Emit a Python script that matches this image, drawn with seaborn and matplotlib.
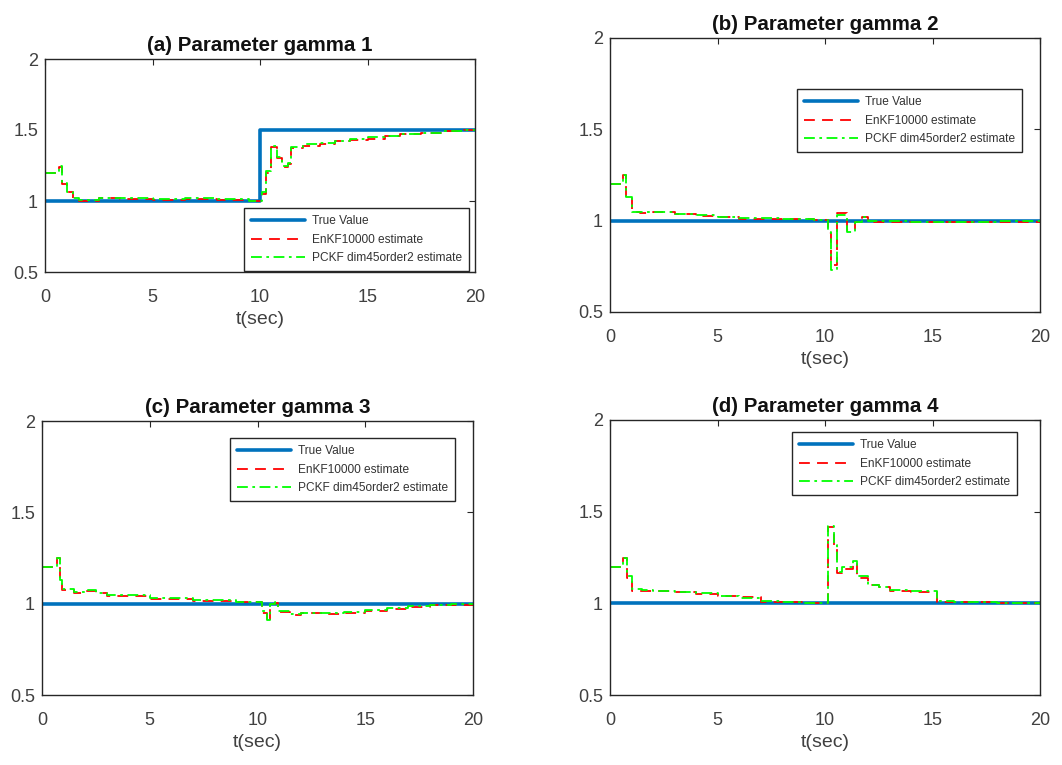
import matplotlib
matplotlib.use("Agg")
import matplotlib.pyplot as plt
import seaborn as sns

sns.set_theme(style="white")
plt.rcParams["font.family"] = ["Liberation Sans", "DejaVu Sans"]

# ---- data -------------------------------------------------------------
titles = ["(a) Parameter gamma 1", "(b) Parameter gamma 2",
          "(c) Parameter gamma 3", "(d) Parameter gamma 4"]
labels = ["True Value", "EnKF10000 estimate", "PCKF dim45order2 estimate"]
x_ticks = [0, 5, 10, 15, 20]
y_ticks = [0.5, 1, 1.5, 2]

# true parameter values (piecewise constant)
t_true_a = [0, 10, 20]
true_a = [1.0, 1.5, 1.5]
t_true = [0, 20]
true_flat = [1.0, 1.0]

# gamma 1
t_a = [0, 0.65, 0.8, 1.0, 1.3, 1.6, 2.5, 3.5, 5, 6.5, 8, 9.5, 10.1, 10.3, 10.5,
       10.8, 11.0, 11.3, 11.45, 12, 12.8, 13.5, 14.2, 15, 15.8, 16.5, 17.5, 18.5, 19.5, 20]
enkf_a = [1.20, 1.24, 1.12, 1.06, 1.02, 1.00, 1.02, 1.015, 1.01, 1.015, 1.01, 1.00, 1.05, 1.20, 1.38,
          1.30, 1.24, 1.26, 1.37, 1.39, 1.40, 1.42, 1.43, 1.44, 1.46, 1.47, 1.48, 1.49, 1.50, 1.50]
pckf_a = [1.20, 1.25, 1.13, 1.06, 1.02, 1.01, 1.02, 1.02, 1.015, 1.02, 1.015, 1.00, 1.06, 1.21, 1.39,
          1.31, 1.25, 1.27, 1.38, 1.40, 1.41, 1.42, 1.44, 1.45, 1.46, 1.47, 1.48, 1.49, 1.50, 1.50]

# gamma 2
t_b = [0, 0.6, 0.75, 1.0, 1.4, 2.0, 3.0, 4.0, 5.0, 6.0, 8.0, 9.5, 10.15, 10.3, 10.55,
       11.0, 11.4, 11.7, 12.0, 14.0, 16.0, 18.0, 20]
enkf_b = [1.20, 1.25, 1.13, 1.05, 1.04, 1.045, 1.035, 1.025, 1.02, 1.01, 1.01, 1.005, 0.93, 0.76, 1.04,
          0.95, 0.99, 1.02, 0.995, 0.99, 0.99, 0.995, 1.00]
pckf_b = [1.20, 1.25, 1.13, 1.05, 1.045, 1.05, 1.035, 1.03, 1.02, 1.015, 1.01, 1.005, 0.94, 0.73, 1.03,
          0.94, 0.99, 1.02, 1.00, 0.995, 0.99, 1.00, 1.00]

# gamma 3
t_c = [0, 0.68, 0.84, 0.93, 1.5, 2.0, 2.5, 3.0, 5.0, 7.0, 9.0, 10.2, 10.45, 10.6,
       10.8, 10.95, 11.5, 12.0, 13.0, 14.0, 15.0, 16.0, 17.0, 18.0, 19.0, 20]
enkf_c = [1.20, 1.25, 1.13, 1.075, 1.06, 1.07, 1.06, 1.04, 1.025, 1.015, 1.01, 0.95, 0.90, 1.00,
          1.005, 0.955, 0.94, 0.95, 0.945, 0.95, 0.96, 0.97, 0.98, 0.99, 0.995, 1.00]
pckf_c = [1.20, 1.25, 1.13, 1.08, 1.065, 1.075, 1.06, 1.045, 1.03, 1.02, 1.01, 0.96, 0.91, 1.00,
          1.01, 0.96, 0.945, 0.95, 0.95, 0.955, 0.965, 0.975, 0.985, 0.99, 1.00, 1.00]

# gamma 4
t_d = [0, 0.6, 0.8, 1.0, 1.5, 2.0, 3.0, 4.0, 5.0, 6.0, 7.0, 8.0, 9.0, 10.15, 10.4, 10.55,
       10.8, 11.3, 11.5, 12.0, 12.5, 13.0, 14.0, 15.2, 16.0, 17.0, 18.0, 20]
enkf_d = [1.20, 1.25, 1.14, 1.07, 1.07, 1.065, 1.06, 1.05, 1.04, 1.035, 1.01, 1.01, 1.00, 1.415, 1.31, 1.165,
          1.19, 1.22, 1.14, 1.10, 1.09, 1.07, 1.06, 1.01, 1.01, 1.01, 1.00, 1.00]
pckf_d = [1.20, 1.25, 1.15, 1.08, 1.075, 1.07, 1.06, 1.055, 1.04, 1.03, 1.015, 1.01, 1.00, 1.42, 1.32, 1.17,
          1.20, 1.23, 1.15, 1.10, 1.09, 1.075, 1.065, 1.015, 1.01, 1.01, 1.00, 1.00]

panels = [
    (t_true_a, true_a, t_a, enkf_a, pckf_a),
    (t_true, true_flat, t_b, enkf_b, pckf_b),
    (t_true, true_flat, t_c, enkf_c, pckf_c),
    (t_true, true_flat, t_d, enkf_d, pckf_d),
]

# ---- layout (pixels: left, top, right, bottom) ------------------------
W, H = 1062, 765
boxes = [(45, 59, 475, 272), (610, 38, 1040, 312),
         (42, 421, 473, 695), (610, 420, 1040, 695)]
legend_corners = [(244, 208), (797, 89), (230, 438), (792, 432)]

fig = plt.figure(figsize=(W / 100, H / 100), dpi=100)
text_col = "#262626"

for i, (box, (tt, tv, te, ve, vp)) in enumerate(zip(boxes, panels)):
    l, t, r, b = box
    ax = fig.add_axes([l / W, 1 - b / H, (r - l) / W, (b - t) / H])
    sns.lineplot(x=tt, y=tv, ax=ax, color="#0072BD", lw=2.6,
                 drawstyle="steps-post", label=labels[0], estimator=None, sort=False)
    sns.lineplot(x=te, y=ve, ax=ax, color="#FF0000", lw=1.3,
                 linestyle=(0, (6, 4)), drawstyle="steps-post",
                 label=labels[1], estimator=None, sort=False)
    sns.lineplot(x=te, y=vp, ax=ax, color="#00FF00", lw=1.3,
                 linestyle=(0, (6, 2.5, 1.5, 2.5)), drawstyle="steps-post",
                 label=labels[2], estimator=None, sort=False)

    ax.set_xlim(0, 20)
    ax.set_ylim(0.5, 2)
    ax.set_xticks(x_ticks)
    ax.set_xticklabels([str(v) for v in x_ticks])
    ax.set_yticks(y_ticks)
    ax.set_yticklabels(["0.5", "1", "1.5", "2"])
    ax.tick_params(direction="in", length=4, width=0.8, top=True, right=True,
                   labelsize=13, colors=text_col, labelcolor="#404040")
    ax.tick_params(axis="x", pad=12)
    ax.tick_params(axis="y", pad=5)
    for s in ax.spines.values():
        s.set_color(text_col)
        s.set_linewidth(1.0)
    ax.set_xlabel("t(sec)", fontsize=14, color="#404040", labelpad=4)
    ax.set_ylabel("")
    ax.set_title(titles[i], fontsize=14.8, fontweight="bold", color="#111111", pad=6)

    lx, ly = legend_corners[i]
    leg = ax.legend(loc="upper left", bbox_to_anchor=(lx / W, 1 - ly / H),
                    bbox_transform=fig.transFigure, borderaxespad=0,
                    fontsize=8.6, handlelength=4.5, handletextpad=0.6,
                    labelspacing=0.55, borderpad=0.6, fancybox=False,
                    framealpha=1, edgecolor="#262626")
    leg.get_frame().set_linewidth(1.0)
    for txt in leg.get_texts():
        txt.set_color("#333333")

fig.savefig("out.png", dpi=100, facecolor="white")
